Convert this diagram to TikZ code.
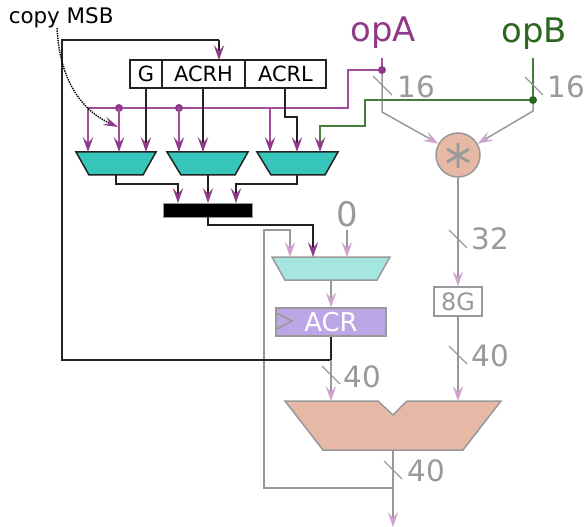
\documentclass[tikz,border=0pt]{standalone}
\usepackage{fontspec}
\setmainfont{DejaVu Sans}
\usetikzlibrary{arrows.meta}
\definecolor{cmag}{HTML}{A24E9C}
\definecolor{cmagd}{HTML}{8F3A88}
\definecolor{cgreen}{HTML}{44803A}
\definecolor{cgreend}{HTML}{2C6620}
\definecolor{cgray}{HTML}{999999}
\definecolor{cpink}{HTML}{CFA3CF}
\definecolor{cteal}{HTML}{37C6BB}
\definecolor{clteal}{HTML}{A6E6E1}
\definecolor{cacr}{HTML}{BDA6E6}
\definecolor{csalmon}{HTML}{E5B9A5}
\definecolor{cblk}{HTML}{222222}
\tikzset{
  hd/.style={-{Stealth[length=15bp,width=10.5bp,inset=6bp,color=#1]}},
  mline/.style={cmag,hd=cmagd},
  kline/.style={cblk,hd=cmagd},
  gline/.style={cgray,hd=cpink},
  wire/.style={cblk},
  regbox/.style={draw=cblk,fill=white,inner sep=0pt,font=\fontsize{21}{21}\selectfont},
  muxa/.style={draw=cblk,fill=cteal,line join=miter},
  muxb/.style={draw=cgray,line join=miter},
  slashl/.style={cgray,line width=1.3bp},
  wlabel/.style={text=cgray,font=\fontsize{29.5}{29.5}\selectfont,anchor=west,inner sep=0pt},
  dotn/.style={circle,inner sep=0pt,minimum size=8bp},
}
\begin{document}
\begin{tikzpicture}[x=1bp,y=-1bp,line width=1.5bp]
\useasboundingbox (0,0) rectangle (586,527);
% registers
\node[regbox,minimum width=32bp,minimum height=28bp] (G) at (146,74) {G};
\node[regbox,minimum width=83bp,minimum height=28bp] (ACRH) at (203.5,74) {ACRH};
\node[regbox,minimum width=81bp,minimum height=28bp] (ACRL) at (285.5,74) {ACRL};
% muxes
\draw[muxa] (76,152) -- (156,152) -- (143,175) -- (89,175) -- cycle;
\draw[muxa] (167,152) -- (248,152) -- (235,175) -- (181,175) -- cycle;
\draw[muxa] (257,152) -- (338,152) -- (325,175) -- (271,175) -- cycle;
\coordinate (m1o) at (116,175);
\coordinate (m2o) at (208,175);
\coordinate (m3o) at (297,175);
% merge bar
\node[fill=black,draw=cgray,line width=0.8bp,minimum width=89bp,minimum height=14bp,inner sep=0pt] (bar) at (208,210) {};
% lower mux and ACR
\draw[muxb,fill=clteal] (272,257) -- (390,257) -- (377,280) -- (285,280) -- cycle;
\coordinate (m4o) at (331,280);
\node[draw=cgray,fill=cacr,minimum width=110bp,minimum height=28bp,inner sep=0pt,text=white,font=\fontsize{26}{26}\selectfont] (ACR) at (331,322) {ACR};
\draw[cgray] (277,313) -- (292,321) -- (277,329);
% big mux
\draw[muxb,fill=csalmon] (285,401) -- (378,401) -- (393,415) -- (407,401) -- (501,401) -- (463,450) -- (323,450) -- cycle;
\coordinate (bigl) at (331,401);
\coordinate (bigr) at (458,401);
\coordinate (bigo) at (393,450);
% multiplier, 8G
\node[circle,draw=cgray,fill=csalmon,minimum size=44bp,inner sep=0pt] (mul) at (458,155) {};
\draw[cgray,line width=2.8bp] (458,143) -- (458,168) (447,149) -- (469,162) (447,162) -- (469,149);
\node[draw=cgray,fill=white,minimum width=48bp,minimum height=29bp,inner sep=0pt,text=cgray,font=\fontsize{24}{24}\selectfont] (eightg) at (458,301.5) {8G};
% labels
\node[anchor=west,inner sep=0pt,font=\fontsize{21.5}{21.5}\selectfont,text=black] (copy) at (8,18) {copy MSB};
\node[text=cmagd,font=\fontsize{34}{34}\selectfont,inner sep=0pt] (opA) at (383,33) {opA};
\node[text=cgreend,font=\fontsize{34}{34}\selectfont,inner sep=0pt] (opB) at (534,34) {opB};
\node[text=cgray,font=\fontsize{34}{34}\selectfont,inner sep=0pt] (zero) at (347,214) {0};
\node[wlabel] (l16a) at (397,87) {16};
\node[wlabel] (l16b) at (547,87) {16};
\node[wlabel] (l32) at (471,239) {32};
\node[wlabel] (l40r) at (471,356) {40};
\node[wlabel] (l40l) at (343,377) {40};
\node[wlabel] (l40o) at (407,471) {40};
% coordinates of routes
\coordinate (dA) at (382,70);
\coordinate (dB) at (533,100);
\coordinate (d1) at (119,108);
\coordinate (d2) at (179,108);
\coordinate (fork) at (331,360);
\coordinate (ofork) at (393,488);
\coordinate (out) at (393,527);
% opA, opB buses
\draw[cmag] (382,58) -- (dA);
\draw[cgreen] (533,58) -- (dB);
\draw[gline] (dA) -- (382,112) -- (mul.150);
\draw[gline] (dB) -- (533,111) -- (mul.30);
\draw[cmag] (dA) -- (348,70) -- (348,108) -- (88,108);
\draw[cgreen,hd=cmagd] (dB) -- (365,100) -- (365,126) -- (320,126) -- (320,152);
\node[dotn,fill=cmagd] (ndA) at (dA) {};
\node[dotn,fill=cgreend] (ndB) at (dB) {};
\node[dotn,fill=cmagd] (nd1) at (d1) {};
\node[dotn,fill=cmagd] (nd2) at (d2) {};
% magenta to muxes
\draw[mline] (88,108) -- (88,152);
\draw[mline] (d1) -- (119,152);
\draw[mline] (d2) -- (179,152);
\draw[mline] (270,108) -- (270,152);
% register outputs
\draw[kline] (G.south) -- (146,152);
\draw[kline] (203,88) -- (203,152);
\draw[kline] (285,88) -- (285,117) -- (297,117) -- (297,152);
% mux outputs to bar
\draw[kline] (m1o) -- (116,184) -- (178,184) -- (178,203);
\draw[kline] (m2o) -- (208,203);
\draw[kline] (m3o) -- (297,184) -- (236,184) -- (236,203);
\draw[kline] (bar.south) -- (208,225) -- (313,225) -- (313,257);
% lower mux
\draw[gline] (ofork) -- (264,488) -- (264,230) -- (290,230) -- (290,257);
\draw[gline] (347,230) -- (347,257);
\draw[gline] (m4o) -- (ACR.north);
\draw[wire] (ACR.south) -- (fork) -- (62,360) -- (62,40) -- (219,40);
\draw[kline] (219,40) -- (219,60);
\draw[gline] (fork) -- (bigl);
\draw[gline] (mul.south) -- (eightg.north);
\draw[gline] (eightg.south) -- (bigr);
\draw[gline] (bigo) -- (out);
% width slashes
\draw[slashl] (373,76) -- (392,95);
\draw[slashl] (525,77) -- (543,95);
\draw[slashl] (449,230) -- (467,248);
\draw[slashl] (449,346) -- (467,364);
\draw[slashl] (322,366) -- (340,384);
\draw[slashl] (384,461) -- (402,479);
% copy MSB
\draw[black,densely dotted,line width=1.4bp,-{Stealth[length=15bp,width=9bp,inset=6bp,color=cmagd]}] (57,28) .. controls (60,85) and (85,112) .. (118,127);
\end{tikzpicture}
\end{document}
